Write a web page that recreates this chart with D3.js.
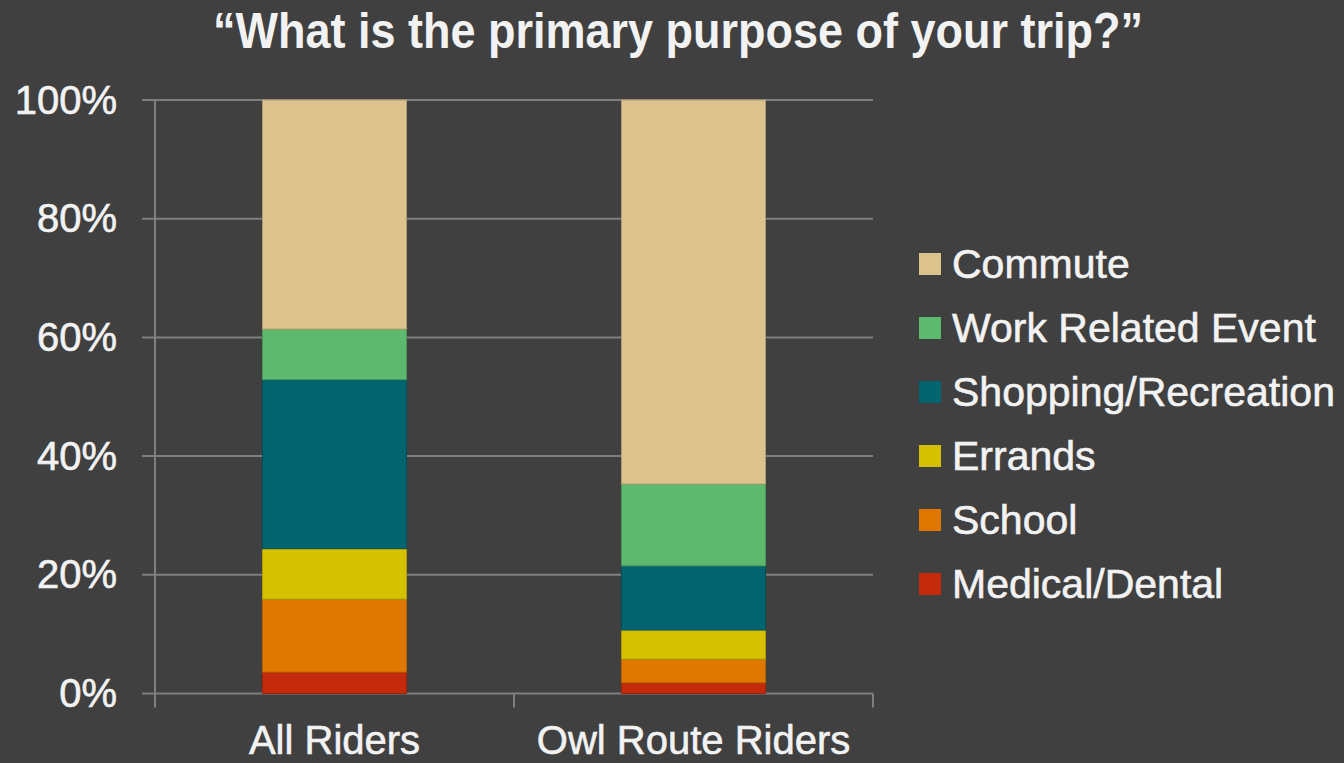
<!DOCTYPE html>
<html>
<head>
<meta charset="utf-8">
<script src="https://cdn.jsdelivr.net/npm/d3@7"></script>
<style>
  html, body { margin: 0; padding: 0; background: #404040; }
  svg { display: block; }
</style>
</head>
<body>
<svg id="chart" width="1344" height="763"></svg>
<script>
// Trip purpose shares (%) for each rider group, bottom segment first
const groups = ["All Riders", "Owl Route Riders"];
const purposes = ["Medical/Dental", "School", "Errands", "Shopping/Recreation", "Work Related Event", "Commute"];
const allRiders = [3.6, 12.3, 8.5, 28.5, 8.5, 38.6];
const owlRouteRiders = [1.8, 4.0, 4.9, 10.8, 13.8, 64.7];
const purposeColors = ["#c42a0c", "#e07800", "#d6c100", "#02646f", "#5db96d", "#ddc48f"];
const yTicks = [0, 20, 40, 60, 80, 100];
const title = "\u201CWhat is the primary purpose of your trip?\u201D";

const svg = d3.select("#chart");
const W = 1344, H = 763;
const plot = { left: 155, right: 873, top: 100, bottom: 693.5 };
const gridColor = "#7f7f7f";
const textColor = "#f2f2f2";
const font = "'Liberation Sans', Arial, sans-serif";

svg.append("rect").attr("width", W).attr("height", H).attr("fill", "#404040");

const x = d3.scaleBand()
  .domain(groups)
  .range([plot.left, plot.right])
  .paddingInner(0.599)
  .paddingOuter(0.2995);

const y = d3.scaleLinear().domain([0, 100]).range([plot.bottom, plot.top]);

// Horizontal gridlines with short ticks to the left of the axis
svg.append("g").selectAll("line")
  .data(yTicks)
  .join("line")
  .attr("x1", plot.left - 13)
  .attr("x2", plot.right)
  .attr("y1", d => y(d))
  .attr("y2", d => y(d))
  .attr("stroke", gridColor)
  .attr("stroke-width", 2);

// Vertical axis
svg.append("line")
  .attr("x1", plot.left).attr("x2", plot.left)
  .attr("y1", y(100)).attr("y2", y(0))
  .attr("stroke", gridColor).attr("stroke-width", 2);

// Category separators on the x axis
const step = x.step();
const boundaries = d3.range(groups.length + 1).map(i => plot.left + i * step);
svg.append("g").selectAll("line")
  .data(boundaries)
  .join("line")
  .attr("x1", d => d).attr("x2", d => d)
  .attr("y1", y(0)).attr("y2", y(0) + 14)
  .attr("stroke", gridColor).attr("stroke-width", 2);

// Shared text styling: a hairline stroke gives the labels a little more weight
function labelStyle(sel, size) {
  sel.attr("fill", textColor)
    .attr("stroke", textColor)
    .attr("stroke-width", 0.6)
    .attr("font-family", font)
    .attr("font-size", size);
}

// Y tick labels
svg.append("g").selectAll("text")
  .data(yTicks)
  .join("text")
  .attr("x", 117)
  .attr("y", d => y(d) + 13.5)
  .attr("text-anchor", "end")
  .call(labelStyle, 40)
  .text(d => d + "%");

// Stacked bars
const rows = groups.map((g, gi) => {
  const vals = gi === 0 ? allRiders : owlRouteRiders;
  const row = { group: g };
  purposes.forEach((p, i) => row[p] = vals[i]);
  return row;
});
const stack = d3.stack().keys(purposes)(rows);
const color = d3.scaleOrdinal().domain(purposes).range(purposeColors);

svg.append("g").selectAll("g")
  .data(stack)
  .join("g")
  .attr("fill", d => color(d.key))
  .attr("stroke", d => d3.color(color(d.key)).darker(0.6))
  .attr("stroke-width", 1)
  .selectAll("rect")
  .data(d => d)
  .join("rect")
  .attr("x", d => x(d.data.group))
  .attr("width", x.bandwidth())
  .attr("y", d => y(d[1]))
  .attr("height", d => y(d[0]) - y(d[1]));

// Category labels
svg.append("g").selectAll("text")
  .data(groups)
  .join("text")
  .attr("x", d => x(d) + x.bandwidth() / 2)
  .attr("y", 754)
  .attr("text-anchor", "middle")
  .call(labelStyle, 40)
  .text(d => d);

// Legend, top entry is the top segment
const legendItems = purposes.slice().reverse();
const legend = svg.append("g").selectAll("g")
  .data(legendItems)
  .join("g")
  .attr("transform", (d, i) => `translate(919, ${264 + i * 64})`);
legend.append("rect")
  .attr("x", 0).attr("y", -11)
  .attr("width", 22).attr("height", 22)
  .attr("fill", d => color(d));
legend.append("text")
  .attr("x", 33).attr("y", 14)
  .call(labelStyle, 41)
  .text(d => d);

// Title
svg.append("text")
  .attr("x", 678)
  .attr("y", 48)
  .attr("text-anchor", "middle")
  .attr("fill", textColor)
  .attr("font-family", "'Liberation Sans Narrow', 'Liberation Sans', Arial, sans-serif")
  .attr("font-weight", "bold")
  .attr("font-size", 50)
  .attr("textLength", 930)
  .attr("lengthAdjust", "spacingAndGlyphs")
  .text(title);
</script>
</body>
</html>
